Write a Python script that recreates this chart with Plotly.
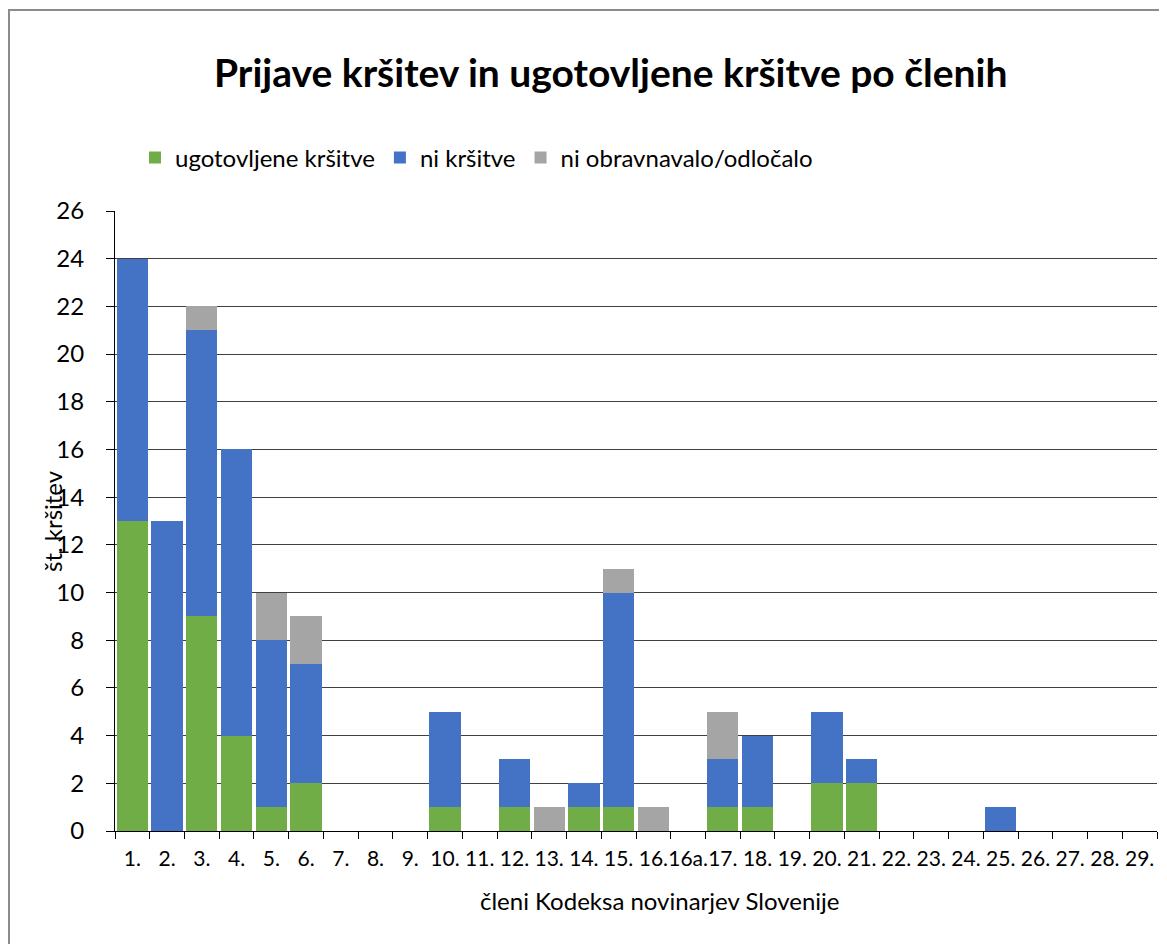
import plotly.graph_objects as go

categories = ["1.", "2.", "3.", "4.", "5.", "6.", "7.", "8.", "9.", "10.", "11.", "12.", "13.", "14.", "15.",
              "16.", "16a.", "17.", "18.", "19.", "20.", "21.", "22.", "23.", "24.", "25.", "26.", "27.", "28.", "29."]
ugotovljene = [13, 0, 9, 4, 1, 2, 0, 0, 0, 1, 0, 1, 0, 1, 1, 0, 0, 1, 1, 0, 2, 2, 0, 0, 0, 0, 0, 0, 0, 0]
ni_krsitve = [11, 13, 12, 12, 7, 5, 0, 0, 0, 4, 0, 2, 0, 1, 9, 0, 0, 2, 3, 0, 3, 1, 0, 0, 0, 1, 0, 0, 0, 0]
ni_obravnavalo = [0, 0, 1, 0, 2, 2, 0, 0, 0, 0, 0, 0, 1, 0, 1, 1, 0, 2, 0, 0, 0, 0, 0, 0, 0, 0, 0, 0, 0, 0]
yticks = list(range(0, 27, 2))

FONT = "Lato"
OFF = 8  # default page body margin
W, H = 1151, 936
L, T = 115 - OFF, 211 - OFF
R = W - (1157 - OFF)
B = H - (831 - OFF)
pw = W - L - R
ph = H - T - B

def px_x(x):  # page pixel -> paper
    return (x - OFF - L) / pw

def px_y(y):
    return (H - B - (y - OFF)) / ph

fig = go.Figure()
fig.add_trace(go.Bar(x=categories, y=ugotovljene, name="ugotovljene kršitve", marker_color="#70AD47", marker_line_width=0))
fig.add_trace(go.Bar(x=categories, y=ni_krsitve, name="ni kršitve", marker_color="#4472C4", marker_line_width=0))
fig.add_trace(go.Bar(x=categories, y=ni_obravnavalo, name="ni obravnavalo/odločalo", marker_color="#A5A5A5", marker_line_width=0))

fig.update_layout(
    width=W, height=H,
    margin=dict(l=L, r=R, t=T, b=B),
    barmode="stack", bargap=0.1,
    paper_bgcolor="white", plot_bgcolor="white",
    font=dict(family=FONT, color="black", size=24),
    showlegend=True,
    legend=dict(orientation="h", x=px_x(135), y=px_y(158), xanchor="left", yanchor="middle",
                font=dict(size=24, family=FONT), itemwidth=30, traceorder="normal",
                bgcolor="rgba(0,0,0,0)"),
    xaxis=dict(type="category", tickson="boundaries", ticks="outside", ticklen=7, tickcolor="black",
               showline=True, linecolor="black", linewidth=1, showgrid=False,
               tickfont=dict(size=21, family=FONT), tickangle=0,
               ticklabelposition="outside", ticklabelstandoff=9),
    yaxis=dict(range=[0, 26], tickvals=yticks, ticks="outside", ticklen=8, tickcolor="black",
               showline=True, linecolor="black", linewidth=1, showgrid=True, gridcolor="#404040",
               gridwidth=1, zeroline=False, tickfont=dict(size=24, family=FONT),
               ticklabelposition="outside", ticklabelstandoff=17),
    annotations=[
        dict(text="<b>Prijave kršitev in ugotovljene kršitve po členih</b>", xref="paper", yref="paper",
             x=px_x(610), y=px_y(72), xanchor="center", yanchor="middle", showarrow=False,
             font=dict(size=39, family=FONT, color="black")),
        dict(text="št. kršitev", xref="paper", yref="paper", x=px_x(52), y=0.5, textangle=-90,
             xanchor="center", yanchor="middle", showarrow=False, font=dict(size=24, family=FONT)),
        dict(text="členi Kodeksa novinarjev Slovenije", xref="paper", yref="paper", x=px_x(660), y=px_y(900),
             xanchor="center", yanchor="middle", showarrow=False, font=dict(size=24, family=FONT)),
    ],
    shapes=[
        dict(type="rect", xref="paper", yref="paper", x0=px_x(9), x1=px_x(1300), y0=px_y(1100), y1=px_y(10),
             line=dict(color="#8c8c8c", width=2), fillcolor="rgba(0,0,0,0)", layer="below"),
    ],
)

fig.write_html("out.html")
